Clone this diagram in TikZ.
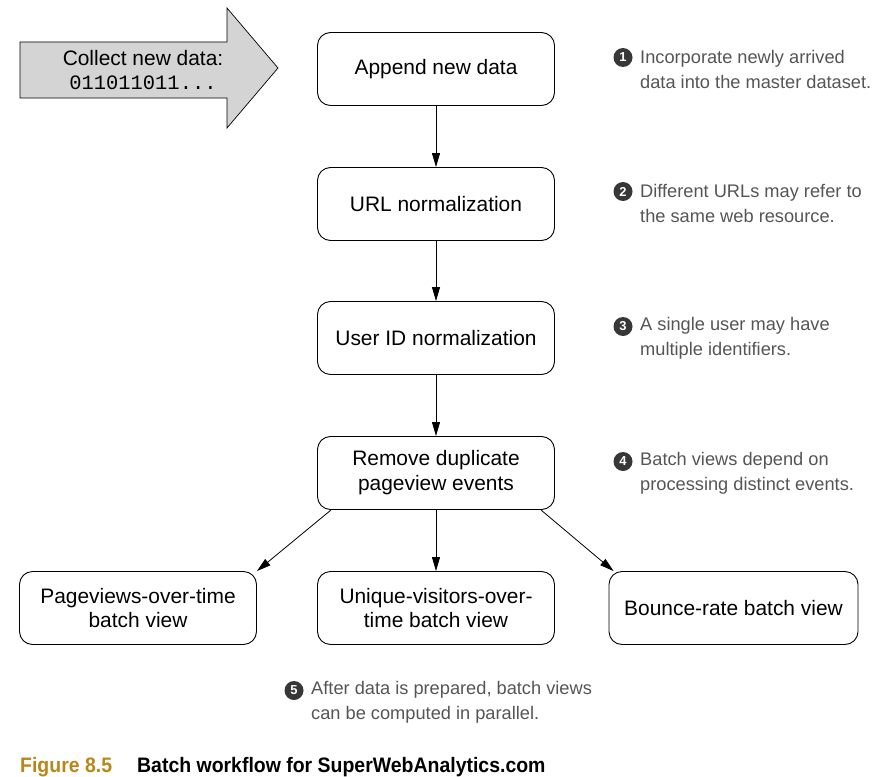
\documentclass[tikz,border=0pt]{standalone}
\usepackage{fontspec}
\setmainfont{Liberation Sans}
\setmonofont{Liberation Mono}
\newfontfamily\capfont{Liberation Sans}[FakeStretch=0.93]
\usepackage{tikz}
\usetikzlibrary{arrows.meta}
\usepackage{xcolor}
\definecolor{notegray}{RGB}{85,85,85}
\definecolor{numgray}{RGB}{55,55,55}
\definecolor{arrowfill}{RGB}{212,212,212}
\definecolor{figgold}{RGB}{185,135,25}

\begin{document}
\begin{tikzpicture}[x=1bp, y=-1bp,
		box/.style={draw, line width=0.9bp, rounded corners=13bp, minimum width=237bp, minimum height=73bp, align=center, font=\fontsize{21}{25}\selectfont},
		note/.style={anchor=west, align=left, inner sep=0pt, text=notegray, font=\fontsize{18.3}{25}\selectfont},
		num/.style={circle, fill=numgray, text=white, inner sep=0pt, minimum size=19bp, font=\fontsize{13}{13}\selectfont\bfseries},
		arr/.style={-{Triangle[length=14bp, width=8bp]}, line width=0.8bp}]
				\useasboundingbox (0, 0) rectangle (877, 777);
				% incoming data
				\draw[fill=arrowfill, line width=0.7bp] (20, 42) -- (227, 42) -- (227, 8) -- (278, 68) -- (227, 128) -- (227, 98) -- (20, 98) -- cycle;
				\node[align=center, font=\fontsize{21}{24}\selectfont] (collect) at (143, 70) {Collect new data:\\{\ttfamily\fontsize{20.5}{24}\selectfont 011011011...}};
				% workflow steps
				\node[box] (append) at (436, 69) {Append new data};
				\node[box] (url) at (436, 204) {URL normalization};
				\node[box] (user) at (436, 338) {User ID normalization};
				\node[box] (dedup) at (436, 473) {Remove duplicate\\pageview events};
				\node[box] (pageviews) at (138, 608) {Pageviews-over-time\\batch view};
				\node[box] (visitors) at (436, 608) {Unique-visitors-over-\\time batch view};
				\node[box, minimum width=249bp] (bounce) at (733.5, 608) {Bounce-rate batch view};
				\draw[arr] (append) -- (url);
				\draw[arr] (url) -- (user);
				\draw[arr] (user) -- (dedup);
				\draw[arr] ([xshift=14bp]dedup.south west) -- (pageviews.north east);
				\draw[arr] (dedup) -- (visitors);
				\draw[arr] ([xshift=-14bp]dedup.south east) -- ([xshift=5bp]bounce.north west);
				% annotations
				\node[num] (n1) at (623, 57.5) {1};
				\node[note] (t1) at (640, 69.5) {Incorporate newly arrived\\data into the master dataset.};
				\node[num] (n2) at (623, 191.5) {2};
				\node[note] (t2) at (640, 203.5) {Different URLs may refer to\\the same web resource.};
				\node[num] (n3) at (623, 326.5) {3};
				\node[note] (t3) at (640, 338.5) {A single user may have\\multiple identifiers.};
				\node[num] (n4) at (623, 461.5) {4};
				\node[note] (t4) at (640, 473.5) {Batch views depend on\\processing distinct events.};
				\node[num] (n5) at (294, 690.5) {5};
				\node[note] (t5) at (311, 702.5) {After data is prepared, batch views\\can be computed in parallel.};
				% caption
				\node[anchor=base west, inner sep=0pt, text=figgold, font=\capfont\bfseries\fontsize{21}{25}\selectfont] (fig) at (20, 772) {Figure 8.5};
				\node[anchor=base west, inner sep=0pt, font=\capfont\bfseries\fontsize{21}{25}\selectfont] (title) at (137, 772) {Batch workflow for SuperWebAnalytics.com};
			\end{tikzpicture}
\end{document}
